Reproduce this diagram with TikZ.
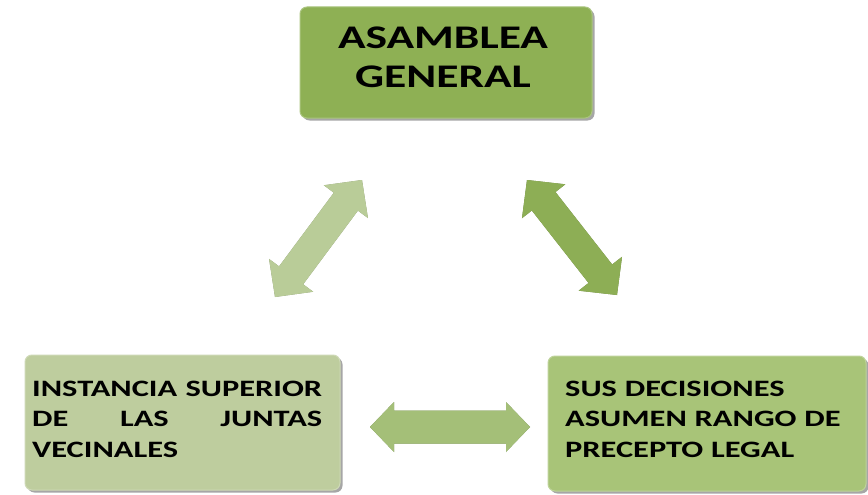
\documentclass[tikz,border=0pt]{standalone}
\usepackage{fontspec}
\usetikzlibrary{calc,shadows}
\newfontfamily\boxfont[FakeStretch=1.38]{Carlito}
\definecolor{topc}{RGB}{142,176,84}
\definecolor{leftc}{RGB}{190,205,158}
\definecolor{rightc}{RGB}{168,196,120}
\definecolor{larrowc}{RGB}{185,204,152}
\definecolor{rarrowc}{RGB}{141,174,85}
\definecolor{harrowc}{RGB}{164,191,120}
\tikzset{
  box/.style={rounded corners=7pt, draw=#1!75!white, line width=1pt, fill=#1,
    drop shadow={shadow xshift=2.5pt, shadow yshift=-2.5pt, opacity=0.35, fill=black},
    inner sep=0pt},
  boxtext/.style={inner sep=0pt, text=black},
}
% double block arrow between two named coordinates
% #1 from, #2 to, #3 colour, #4 head length, #5 shaft half width, #6 head half width
\newcommand\dblarrow[6]{%
  \coordinate (#1-#2-a) at ($(#1)!#4!(#2)$);
  \coordinate (#1-#2-b) at ($(#2)!#4!(#1)$);
  \foreach \sx/\sy/\col in {2pt/-2.5pt/#3!70!black, 0pt/0pt/#3}{
  \fill[\col, xshift=\sx, yshift=\sy] (#1)
    -- ($(#1-#2-a)!#6!90:(#2)$) -- ($(#1-#2-a)!#5!90:(#2)$)
    -- ($(#1-#2-b)!#5!-90:(#1)$) -- ($(#1-#2-b)!#6!-90:(#1)$)
    -- (#2)
    -- ($(#1-#2-b)!#6!90:(#1)$) -- ($(#1-#2-b)!#5!90:(#1)$)
    -- ($(#1-#2-a)!#5!-90:(#2)$) -- ($(#1-#2-a)!#6!-90:(#2)$)
    -- cycle;}
}
\begin{document}
\begin{tikzpicture}[x=1pt,y=-1pt]
\useasboundingbox (0,0) rectangle (868,495);
\fill[white] (0,0) rectangle (868,495);

% boxes
\node[box=topc, minimum width=292pt, minimum height=111pt] (top) at (446,62.5) {};
\node[box=leftc, minimum width=315pt, minimum height=135pt] (left) at (182.5,422.5) {};
\node[box=rightc, minimum width=318pt, minimum height=135pt] (right) at (707,423.5) {};

% texts
\node[boxtext, anchor=base, align=center,
  font=\boxfont\bfseries\fontsize{33}{39}\selectfont] (toptext) at (443,88) {ASAMBLEA\\GENERAL};
\node[boxtext, anchor=base west, text width=290pt, align=justify,
  font=\boxfont\bfseries\fontsize{23.5}{30.5}\selectfont] (lefttext) at (32,396)
  {\hyphenpenalty=10000 INSTANCIA SUPERIOR\linebreak DE LAS JUNTAS\linebreak VECINALES};
\node[boxtext, anchor=base west, text width=295pt, align=left,
  font=\boxfont\bfseries\fontsize{23.5}{30.5}\selectfont] (righttext) at (565,396)
  {SUS DECISIONES\\ASUMEN RANGO DE\\PRECEPTO LEGAL};

% arrow end points
\coordinate (la1) at (275,297);
\coordinate (la2) at (362,180);
\coordinate (ra1) at (527,180);
\coordinate (ra2) at (617,295);
\coordinate (ha1) at (370,427);
\coordinate (ha2) at (530,427);

\dblarrow{la1}{la2}{larrowc}{27pt}{15pt}{27.5pt}
\dblarrow{ra1}{ra2}{rarrowc}{27pt}{15pt}{27.5pt}
\dblarrow{ha1}{ha2}{harrowc}{24pt}{16.5pt}{25pt}
\end{tikzpicture}
\end{document}
